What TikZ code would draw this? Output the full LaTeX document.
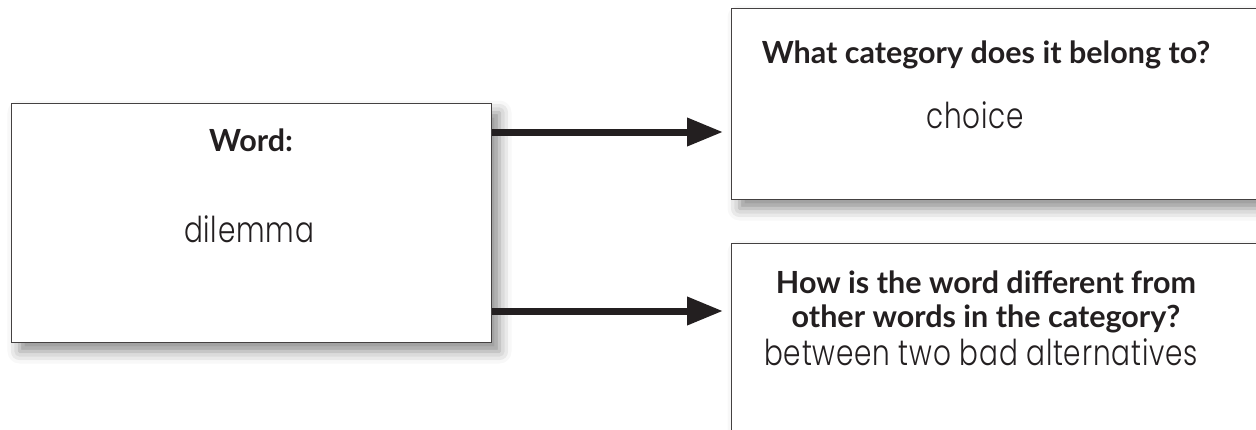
\documentclass[tikz,border=0pt]{standalone}
\usepackage{fontspec}
\setmainfont{Lato}
\newfontfamily\hand{Poppins Light}[LetterSpace=3]
\usetikzlibrary{shadows.blur,arrows.meta}
\definecolor{ink}{HTML}{231F20}
\newcommand{\hw}[1]{\scalebox{0.9}[1.15]{#1}}
\tikzset{
  card/.style={draw=ink!85, line width=1pt, fill=white, blur shadow={shadow xshift=8pt, shadow yshift=-9pt, shadow blur radius=12pt, shadow opacity=45}},
  title/.style={font=\bfseries\fontsize{30.5}{36}\selectfont, text=ink, align=center, anchor=base},
  answer/.style={font=\hand\fontsize{31}{36}\selectfont, text=ink, anchor=base}
}
\tikzset{
  link/.style={draw=ink, line width=7pt, -{Triangle[length=36pt,width=27pt]}}
}
\begin{document}
\begin{tikzpicture}[x=1pt,y=-1pt]
\useasboundingbox (0,0) rectangle (1256,429);
\clip (0,0) rectangle (1256,429);
\node[card, minimum width=480pt, minimum height=239pt, anchor=north west, inner sep=0pt] (word) at (11,103) {};
\node[card, minimum width=560pt, minimum height=191pt, anchor=north west, inner sep=0pt] (cat) at (731,8) {};
\node[card, minimum width=560pt, minimum height=220pt, anchor=north west, inner sep=0pt] (diff) at (731,243) {};
\node[title] (wordt) at (251,151) {Word:};
\node[answer] (worda) at (249,242) {\hw{dilemma}};
\node[title] (catt) at (986,63) {What category does it belong to?};
\node[answer] (cata) at (975,128) {\hw{choice}};
\node[title] (difft1) at (986,293) {How is the word different from};
\node[title] (difft2) at (986,327) {other words in the category?};
\node[answer] (diffa) at (981,365) {\hw{between two bad alternatives}};
\coordinate (a1) at (word.east |- 0,132);
\coordinate (a2) at (word.east |- 0,311);
\draw[link] (a1) -- (a1 -| 723,0);
\draw[link] (a2) -- (a2 -| 723,0);
\end{tikzpicture}
\end{document}
